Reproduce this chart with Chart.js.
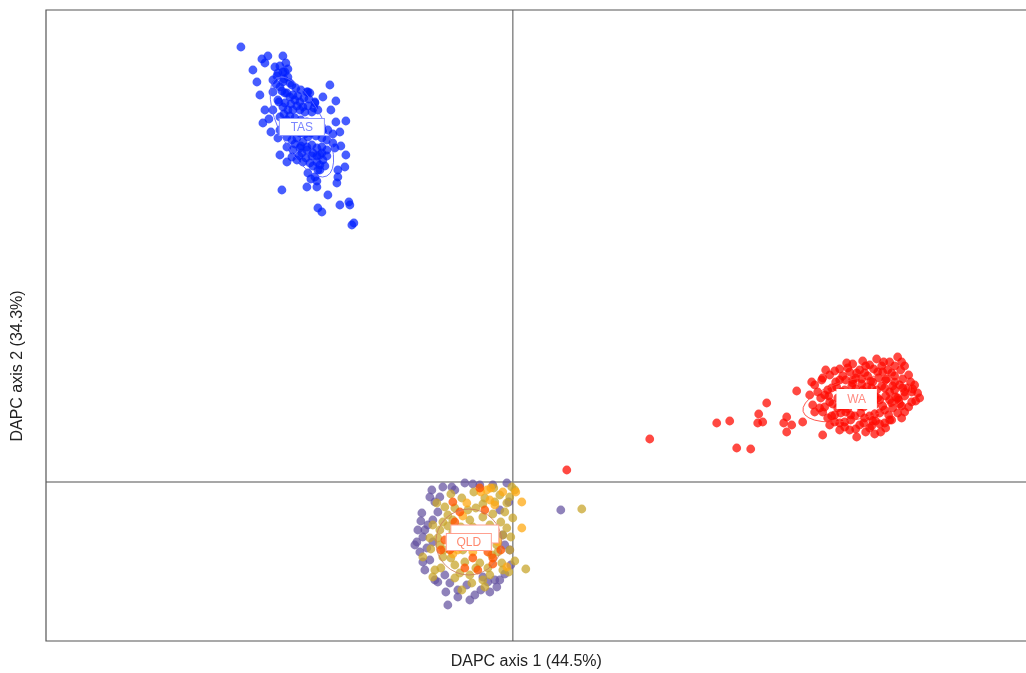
<!DOCTYPE html>
<html>
<head>
<meta charset="utf-8">
<script src="https://cdn.jsdelivr.net/npm/chart.js@4.4.1/dist/chart.umd.min.js"></script>
<style>
html,body{margin:0;padding:0;background:#fff;}
#wrap{width:1026px;height:673px;}
</style>
</head>
<body>
<div id="wrap"><canvas id="c" width="1026" height="673"></canvas></div>
<script>
// ---- data (DAPC axis 1, DAPC axis 2) ----
const xTitle = "DAPC axis 1 (44.5%)";
const yTitle = "DAPC axis 2 (34.3%)";
const xRange = [-46.7, 50.9];
const yRange = [-15.9, 47.2];

const tasPoints = [
 [-27.2,43.5],[-25.1,42.3],[-24.5,42.6],[-24.8,41.9],[-23.0,42.6],[-22.7,41.9],[-26.0,41.2],[-25.3,38.7],
 [-24.8,37.2],[-25.0,35.9],[-18.3,39.7],[-19.0,38.5],[-17.7,38.1],[-17.7,36.0],[-16.7,36.1],[-17.3,35.0],
 [-17.8,33.4],[-16.7,32.7],[-16.8,31.5],[-17.5,31.2],[-17.6,29.9],[-17.5,30.5],[-23.1,29.2],[-20.6,29.5],
 [-19.6,29.5],[-18.5,28.7],[-17.3,27.7],[-16.4,28.0],[-16.3,27.7],[-19.5,27.4],[-19.1,27.0],[-16.1,25.7],
 [-15.9,25.9],[-23.3,32.7],[-22.6,32.0],
 [-24.0,40.2],[-23.5,40.9],[-23.0,41.0],[-22.5,40.5],[-22.1,39.7],[-24.0,39.0],[-23.3,39.5],[-22.8,38.9],
 [-22.3,38.5],[-21.8,38.2],[-21.3,38.0],[-20.6,39.0],[-20.3,38.9],[-19.8,38.0],[-23.5,38.2],[-24.0,37.2],
 [-23.0,37.5],[-22.5,37.2],[-22.0,37.2],[-21.3,37.2],[-20.8,37.0],[-20.1,37.0],[-19.5,37.2],[-23.3,35.2],
 [-23.5,34.4],[-22.6,34.5],[-22.1,34.2],[-21.6,34.4],[-21.0,34.0],[-20.5,34.5],[-19.6,35.2],[-19.0,35.2],
 [-18.5,35.2],[-22.6,33.5],[-22.0,33.2],[-21.3,33.4],[-20.6,33.5],[-20.1,33.7],[-19.6,33.4],[-19.1,33.5],
 [-18.6,33.2],[-21.6,32.2],[-21.0,32.0],[-20.3,31.9],[-19.6,32.0],[-19.3,31.7],[-19.0,32.2],[-20.5,30.9],
 [-19.8,30.5],[-19.3,31.2],[-22.1,32.5],[-21.1,32.9],[-23.3,36.5],[-22.6,36.2],[-21.6,35.9],[-18.6,34.2],
 [-18.0,33.9],[-20.0,32.9],[-19.3,32.7],[-22.8,41.0],[-23.0,40.0],[-19.8,37.9],[-20.5,39.0],
 [-23.8,41.5],[-23.3,41.6],[-22.5,41.3],[-23.6,40.6],[-22.9,40.3],[-22.3,39.9],[-21.7,39.4],[-21.2,39.2],
 [-23.7,39.8],[-23.1,39.1],[-22.6,38.9],[-22.0,38.7],[-21.5,38.6],[-20.9,38.4],[-20.4,38.3],[-23.4,38.0],
 [-22.8,37.9],[-22.2,37.8],[-21.6,37.6],[-21.0,37.5],[-20.5,37.6],[-19.9,37.4],[-22.9,36.8],[-22.3,36.6],
 [-21.8,36.4],[-21.2,36.2],[-20.6,36.0],[-20.1,35.8],[-19.4,35.8],[-22.4,35.6],[-21.9,35.1],[-21.3,34.9],
 [-20.8,34.8],[-20.2,34.9],[-19.7,34.6],[-19.1,34.4],[-21.8,33.8],[-21.2,33.6],[-20.6,33.2],[-20.1,32.6],
 [-19.6,32.6],[-19.1,32.9],[-18.6,32.6],[-21.4,32.6],[-20.7,32.4],[-20.0,31.6],[-19.5,31.2],[-18.8,31.6],
 [-20.2,30.3],[-19.6,30.1],[-24.4,36.3],[-24.2,35.0],[-18.2,37.2],[-18.0,34.8],[-17.2,33.6],[-25.6,40.0]
];

const waPoints = [
 [13.7,4.3],[20.4,5.9],[21.7,6.1],[22.4,3.4],[23.8,3.3],[24.6,6.8],[24.5,5.9],[25.0,6.0],[25.4,7.9],
 [27.1,5.9],[27.4,5.0],[5.4,1.2],
 [32.7,10.2],[33.7,11.0],[34.7,11.2],[35.5,10.6],[36.5,11.0],[37.5,11.2],[38.2,10.6],[38.7,9.7],[39.2,9.0],
 [38.5,8.4],[37.7,9.0],[36.9,9.6],[35.9,9.4],[34.9,9.8],[33.9,9.6],[32.9,9.0],[31.9,9.4],[31.2,8.7],
 [31.7,8.0],[32.5,7.4],[33.3,7.0],[34.2,6.6],[35.2,6.4],[36.2,6.8],[37.2,7.2],[38.0,7.4],[38.9,7.6],
 [39.5,9.4],[40.2,9.7],[36.7,8.2],[35.7,7.8],[34.7,7.6],[33.7,8.0],[32.2,6.7],[33.2,6.0],[34.7,5.7],
 [35.7,5.4],[36.7,5.8],[37.9,6.2],[30.5,9.0],[30.9,10.2],[30.2,7.0],[31.5,6.4],[38.2,11.6],[37.1,12.0],
 [39.9,9.0],[39.2,7.0],[34.7,8.8],[36.2,8.6],[37.7,8.2],[33.2,8.4],[34.3,10.4],[35.3,11.6],[31.3,11.2],
 [30.2,9.7],[32.7,5.2],[35.3,5.0],[36.8,5.0],[38.6,8.2],[40.5,8.9],
 [28.4,9.1],[33.4,11.9],[36.4,12.3],[35.7,11.7],[37.7,12.0],[38.5,12.5],[39.2,11.6],[40.7,8.4],[39.9,8.0],
 [27.4,6.5],[27.9,5.7],[29.0,6.0],[31.0,4.7],[34.4,4.5],[36.2,4.8],[38.9,6.4],[37.7,6.2],[33.7,5.2],
 [31.7,5.7],[32.7,5.9],[29.9,10.0],[31.0,10.4],[31.7,10.7],[32.2,11.1],[30.0,7.7],[30.7,7.4],[29.7,8.7],
 [33.0,10.6],[36.0,10.0],[37.4,10.3],[35.0,9.2],[33.5,7.3],[36.0,6.1],[34.0,10.2],[38.0,9.6],
 [34.0,11.8],[35.0,12.1],[36.9,11.6],[38.9,12.0],
 [32.7,11.3],[33.5,11.4],[34.4,10.9],[35.2,10.9],[36.1,11.3],[37.0,11.0],[37.9,10.9],[38.8,11.2],[39.6,10.7],
 [32.3,10.0],[33.3,10.2],[34.0,9.9],[34.9,10.3],[35.8,10.1],[36.6,10.4],[37.3,10.2],[38.2,10.0],[39.0,10.3],[39.8,10.0],
 [31.5,9.2],[32.4,9.5],[33.2,9.2],[34.3,9.3],[35.4,9.5],[36.4,9.2],[37.2,9.4],[38.2,9.2],[39.0,9.4],[40.0,9.3],
 [30.8,8.4],[31.6,8.6],[32.5,8.4],[33.6,8.6],[34.6,8.3],[35.5,8.6],[36.5,8.4],[37.3,8.6],[38.3,8.5],[39.2,8.6],[40.3,8.1],
 [31.2,7.5],[32.0,7.8],[32.9,7.6],[34.0,7.8],[35.1,7.5],[36.2,7.7],[37.0,7.6],[37.9,7.9],[38.7,7.8],[39.6,7.5],
 [31.0,7.0],[31.9,6.6],[32.8,6.9],[33.8,6.7],[34.8,6.9],[35.7,6.6],[36.7,6.9],[37.6,6.7],[38.5,6.9],
 [32.2,6.0],[33.8,6.2],[35.1,5.9],[36.3,6.1],[37.2,5.9],
 [33.2,5.5],[34.3,5.3],[35.9,5.6],[37.3,5.4]
];

const qldPurple = [
 [-8.1,-0.8],[-6.1,-0.5],[-4.8,-0.1],[-3.3,-0.3],[-0.6,-0.1],[4.8,-2.8],[-9.1,-3.1],[-9.5,-4.8],[-9.6,-6.0],
 [-9.3,-7.0],[-8.8,-8.8],[-7.5,-10.0],[-6.3,-10.1],[-4.6,-10.3],[-2.3,-11.0],[-1.6,-10.5],[-6.5,-12.3],
 [-0.3,-6.8],[-1.0,-5.3],[-8.0,-3.8],[-7.3,-1.5],[-7.8,-2.0],[-1.3,-9.8],[-8.6,-6.6],[-3.0,-9.5],
 [-8.8,-4.8],[-8.3,-7.8],[-6.8,-9.3],[-3.8,-11.3],[-1.3,-2.8],[-0.8,-6.3],[-9.8,-6.3],[-8.5,-4.3],
 [-5.8,-0.8],[-6.7,-11.0],[-4.3,-11.8],
 [-9.0,-5.5],[-9.2,-3.9],[-8.3,-1.5],[-7.0,-0.5],[-4.0,-0.2],[-2.0,-0.3],[-9.0,-8.0],[-7.8,-9.8],
 [-5.5,-10.8],[-2.5,-10.0],[-0.8,-9.2],[-0.2,-8.3],[-0.4,-2.0],[-1.8,-9.8],[-8.0,-6.0],[-7.5,-3.0],
 [-5.5,-11.5],[-3.2,-10.8]
];
const qldOlive = [
 [6.9,-2.7],[-0.1,-0.5],[-0.3,-1.5],[0.0,-3.6],[0.2,-7.9],[1.3,-8.7],[-9.0,-7.5],[-8.0,-9.5],[-2.8,-10.5],
 [-4.1,-10.1],[-0.6,-2.1],[-5.3,-9.1],[-1.1,-8.1],[-7.6,-2.1],[-6.8,-2.5],[-8.3,-5.6],[-0.6,-4.6],[-7.0,-7.5],
 [-3.3,-8.1],[-6.0,-3.8],[-4.3,-3.8],[-2.3,-4.3],[-1.6,-6.3],[-7.3,-4.8],[-5.8,-8.3],[-4.3,-9.3],[-2.3,-9.3],
 [-7.3,-6.3],[-1.3,-1.3],[0.2,-0.8],[-2.8,-1.6],[-5.1,-1.6],[-6.5,-3.3],[-3.7,-2.6],[-2.1,-7.3],[-7.8,-8.8],
 [-0.4,-9.0],[-5.1,-10.8],
 [-6.0,-5.0],[-5.2,-4.5],[-4.0,-4.5],[-3.0,-3.5],[-2.0,-3.2],[-1.2,-4.0],[-1.0,-5.3],[-1.5,-7.0],[-2.5,-8.6],
 [-3.7,-8.6],[-4.8,-8.0],[-6.2,-7.6],[-6.9,-6.8],[-7.5,-5.6],[-7.0,-4.0],[-5.8,-2.6],[-4.5,-2.8],[-3.0,-2.2],
 [-1.8,-2.0],[-0.8,-3.0],[-0.2,-5.5],[-0.3,-6.8],[-1.0,-8.8],[-3.0,-9.8],[-5.8,-9.6],[-7.2,-8.6],[-8.2,-6.7],
 [-8.0,-4.3],[-6.2,-1.2],[-3.9,-1.0],[-1.9,-0.6],[-5.0,-6.8],[-3.0,-6.0],[-2.0,-5.2],[-6.5,-4.4]
];
const qldOrange = [
 [0.9,-2.0],[0.9,-4.6],[-2.6,-0.8],[-4.6,-2.1],[-2.3,-1.8],[-0.6,-8.5],[-3.6,-6.3],[-5.5,-6.8],[-1.8,-2.3],
 [-4.3,-5.8],[-3.0,-4.8],[-5.8,-5.3],
 [-2.2,-0.6],[-3.2,-1.0],[-1.0,-1.0],[-5.0,-3.4],[-4.0,-7.0],[-6.0,-7.2],[-2.6,-5.6],[-1.5,-6.0],[0.3,-1.0],[-4.8,-5.0]
];
const qldRed = [
 [-5.3,-3.0],[-2.8,-2.8],[-2.0,-7.6],[-6.3,-6.8],[-4.0,-7.6],[-6.8,-5.8],[-2.5,-7.0],[-3.5,-8.8],
 [-6.0,-2.0],[-1.2,-6.8],[-2.0,-8.2],[-4.8,-8.6],[-5.8,-4.0],[-3.3,-0.6],[-7.2,-6.8]
];

// group ellipses: centre x, centre y, semi-axis a, semi-axis b, angle (deg)
const groupNames = ["TAS","WA","QLD"];
const groupCentres = [[-21.1,35.5],[34.4,8.3],[-4.4,-6.0]];
const ellipseAxes = [[5.5,2.2,63],[5.5,2.0,-13],[3.3,3.3,0]];
const groupColours = ["rgba(0,30,255,0.72)","rgba(255,10,0,0.74)"];

const toXY = a => a.map(p => ({x:p[0], y:p[1]}));
const titleFont = '16px "Liberation Sans", Arial, sans-serif';

const frameAndZero = {
  id:'frameAndZero',
  beforeDatasetsDraw(chart){
    const {ctx, chartArea:ca, scales:{x,y}} = chart;
    ctx.save();
    ctx.strokeStyle = '#8a8a8a'; ctx.lineWidth = 1.5;
    const x0 = x.getPixelForValue(0), y0 = y.getPixelForValue(0);
    ctx.beginPath(); ctx.moveTo(x0, ca.top); ctx.lineTo(x0, ca.bottom); ctx.stroke();
    ctx.beginPath(); ctx.moveTo(ca.left, y0); ctx.lineTo(ca.right + 5, y0); ctx.stroke();
    ctx.strokeStyle = '#555'; ctx.lineWidth = 1.2;
    ctx.beginPath();
    ctx.moveTo(ca.right + 5, ca.top); ctx.lineTo(ca.left, ca.top); ctx.lineTo(ca.left, ca.bottom); ctx.lineTo(ca.right + 5, ca.bottom);
    ctx.stroke();
    // axis titles
    ctx.fillStyle = '#222';
    ctx.font = titleFont;
    ctx.textAlign = 'center'; ctx.textBaseline = 'middle';
    ctx.fillText(xTitle, x.getPixelForValue(1.35), ca.bottom + 21);
    ctx.translate(18, y.getPixelForValue(11.6));
    ctx.rotate(-Math.PI/2);
    ctx.fillText(yTitle, 0, 0);
    ctx.restore();
  },
  afterDatasetsDraw(chart){
    const {ctx, scales:{x,y}} = chart;
    const ux = Math.abs(x.getPixelForValue(1) - x.getPixelForValue(0));
    const uy = Math.abs(y.getPixelForValue(1) - y.getPixelForValue(0));
    const ellCols = ['rgba(90,100,255,0.9)','rgba(255,70,60,0.9)','rgba(200,120,90,0.8)'];
    const txtCols = ['#7b86ff','#ff8a80','#ff8a70'];
    const brdCols = ['#8d96ff','#ffffff','#ffa090'];
    ctx.save();
    groupCentres.forEach((c,i) => {
      const cx = x.getPixelForValue(c[0]), cy = y.getPixelForValue(c[1]);
      const e = ellipseAxes[i];
      ctx.beginPath();
      ctx.ellipse(cx, cy, e[0]*ux, e[1]*uy, e[2]*Math.PI/180, 0, Math.PI*2);
      ctx.strokeStyle = ellCols[i]; ctx.lineWidth = 1; ctx.stroke();
    });
    {
      const cx = x.getPixelForValue(groupCentres[2][0]+0.6), cy = y.getPixelForValue(groupCentres[2][1]+0.8);
      ctx.fillStyle='#fff'; ctx.fillRect(cx-24, cy-9, 48, 18);
      ctx.strokeStyle='#ffa090'; ctx.lineWidth=1; ctx.strokeRect(cx-24, cy-9, 48, 18);
    }
    ctx.font = '12px "Liberation Sans", Arial, sans-serif';
    ctx.textAlign='center'; ctx.textBaseline='middle';
    groupCentres.forEach((c,i) => {
      const cx = x.getPixelForValue(c[0]), cy = y.getPixelForValue(c[1]);
      const w = i===1 ? 40 : 46, h = i===1 ? 20 : 18;
      ctx.fillStyle = '#fff';
      ctx.fillRect(cx-w/2, cy-h/2, w, h);
      ctx.strokeStyle = brdCols[i]; ctx.lineWidth = 1;
      ctx.strokeRect(cx-w/2+0.5, cy-h/2+0.5, w-1, h-1);
      ctx.fillStyle = txtCols[i];
      ctx.fillText(groupNames[i], cx, cy+0.5);
    });
    ctx.restore();
  }
};

const ds = (label, pts, col, order) => ({
  label, data: toXY(pts), backgroundColor: col, borderWidth: 0,
  pointRadius: 4.4, pointHoverRadius: 4.4, order
});

new Chart(document.getElementById('c'), {
  type: 'scatter',
  data: {
    datasets: [
      ds('TAS', tasPoints, groupColours[0], 5),
      ds('WA', waPoints, groupColours[1], 4),
      ds('QLD-1', qldPurple, 'rgba(100,82,160,0.72)', 3),
      ds('QLD-2', qldOlive, 'rgba(200,165,45,0.75)', 2),
      ds('QLD-3', qldOrange, 'rgba(255,170,20,0.75)', 1),
      ds('QLD-4', qldRed, 'rgba(255,85,0,0.78)', 0)
    ]
  },
  options: {
    responsive: false,
    animation: false,
    layout: { padding: { left: 46, top: 10, right: 0, bottom: 32 } },
    plugins: { legend: { display: false }, tooltip: { enabled: false } },
    scales: {
      x: {
        type: 'linear', min: xRange[0], max: xRange[1],
        ticks: { display: false },
        grid: { display: false, drawTicks: false },
        border: { display: false },
        title: { display: false, text: xTitle }
      },
      y: {
        type: 'linear', min: yRange[0], max: yRange[1],
        ticks: { display: false },
        grid: { display: false, drawTicks: false },
        border: { display: false },
        title: { display: false, text: yTitle }
      }
    }
  },
  plugins: [frameAndZero]
});
</script>
</body>
</html>
